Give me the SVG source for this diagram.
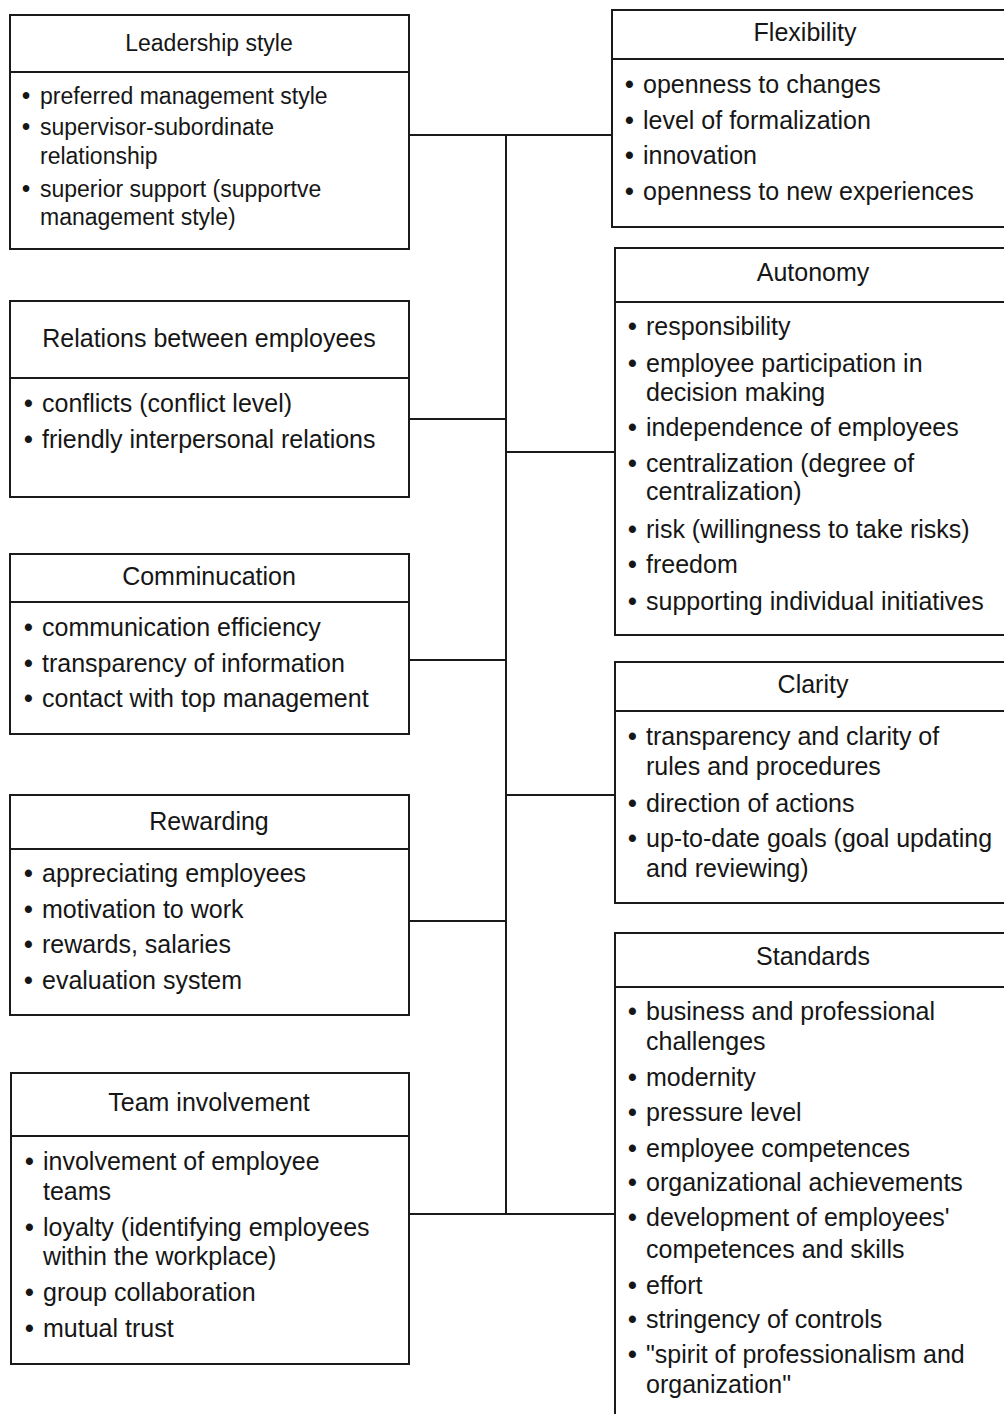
<svg xmlns="http://www.w3.org/2000/svg" width="1004" height="1414" viewBox="0 0 1004 1414">
<style>
.box{fill:#fff;stroke:#1a1a1a;stroke-width:2}
.div{stroke:#1a1a1a;stroke-width:2}
.conn{stroke:#1a1a1a;stroke-width:2;fill:none}
text{font-family:"Liberation Sans",Arial,sans-serif;fill:#161616}
.t{font-size:25px;text-anchor:middle}
.i{font-size:25px}
.s .t,.s .i{font-size:23px}
.b{font-weight:bold}
</style>
<rect width="1004" height="1414" fill="#fff"/>
<g id="connectors">
<line class="conn" x1="506" y1="135" x2="506" y2="1214"/>
<line class="conn" x1="409" y1="135" x2="612" y2="135"/>
<line class="conn" x1="409" y1="419" x2="506" y2="419"/>
<line class="conn" x1="409" y1="660" x2="506" y2="660"/>
<line class="conn" x1="409" y1="921" x2="506" y2="921"/>
<line class="conn" x1="409" y1="1214" x2="615" y2="1214"/>
<line class="conn" x1="506" y1="452" x2="615" y2="452"/>
<line class="conn" x1="506" y1="795" x2="615" y2="795"/>
</g>
<g id="leadership" class="s">
<rect class="box" x="10" y="15" width="399" height="234"/>
<line class="div" x1="10" y1="72" x2="409" y2="72"/>
<text class="t" x="209" y="51">Leadership style</text>
<text class="i" y="104"><tspan class="b" x="22">•</tspan><tspan x="40">preferred management style</tspan></text>
<text class="i" y="135"><tspan class="b" x="22">•</tspan><tspan x="40">supervisor-subordinate</tspan></text>
<text class="i" x="40" y="164">relationship</text>
<text class="i" y="197"><tspan class="b" x="22">•</tspan><tspan x="40">superior support (supportve</tspan></text>
<text class="i" x="40" y="225">management style)</text>
</g>
<g id="relations">
<rect class="box" x="10" y="301" width="399" height="196"/>
<line class="div" x1="10" y1="378" x2="409" y2="378"/>
<text class="t" x="209" y="347">Relations between employees</text>
<text class="i" y="412"><tspan class="b" x="24">•</tspan><tspan x="42">conflicts (conflict level)</tspan></text>
<text class="i" y="448"><tspan class="b" x="24">•</tspan><tspan x="42">friendly interpersonal relations</tspan></text>
</g>
<g id="communication">
<rect class="box" x="10" y="554" width="399" height="180"/>
<line class="div" x1="10" y1="602" x2="409" y2="602"/>
<text class="t" x="209" y="585">Comminucation</text>
<text class="i" y="636"><tspan class="b" x="24">•</tspan><tspan x="42">communication efficiency</tspan></text>
<text class="i" y="672"><tspan class="b" x="24">•</tspan><tspan x="42">transparency of information</tspan></text>
<text class="i" y="707"><tspan class="b" x="24">•</tspan><tspan x="42">contact with top management</tspan></text>
</g>
<g id="rewarding">
<rect class="box" x="10" y="795" width="399" height="220"/>
<line class="div" x1="10" y1="849" x2="409" y2="849"/>
<text class="t" x="209" y="830">Rewarding</text>
<text class="i" y="882"><tspan class="b" x="24">•</tspan><tspan x="42">appreciating employees</tspan></text>
<text class="i" y="918"><tspan class="b" x="24">•</tspan><tspan x="42">motivation to work</tspan></text>
<text class="i" y="953"><tspan class="b" x="24">•</tspan><tspan x="42">rewards, salaries</tspan></text>
<text class="i" y="989"><tspan class="b" x="24">•</tspan><tspan x="42">evaluation system</tspan></text>
</g>
<g id="team">
<rect class="box" x="11" y="1073" width="398" height="291"/>
<line class="div" x1="11" y1="1136" x2="409" y2="1136"/>
<text class="t" x="209" y="1111">Team involvement</text>
<text class="i" y="1170"><tspan class="b" x="25">•</tspan><tspan x="43">involvement of employee</tspan></text>
<text class="i" x="43" y="1200">teams</text>
<text class="i" y="1236"><tspan class="b" x="25">•</tspan><tspan x="43">loyalty (identifying employees</tspan></text>
<text class="i" x="43" y="1265">within the workplace)</text>
<text class="i" y="1301"><tspan class="b" x="25">•</tspan><tspan x="43">group collaboration</tspan></text>
<text class="i" y="1337"><tspan class="b" x="25">•</tspan><tspan x="43">mutual trust</tspan></text>
</g>
<g id="flexibility">
<rect class="box" x="612" y="10" width="420" height="217"/>
<line class="div" x1="612" y1="59" x2="1032" y2="59"/>
<text class="t" x="805" y="41">Flexibility</text>
<text class="i" y="93"><tspan class="b" x="625">•</tspan><tspan x="643">openness to changes</tspan></text>
<text class="i" y="129"><tspan class="b" x="625">•</tspan><tspan x="643">level of formalization</tspan></text>
<text class="i" y="164"><tspan class="b" x="625">•</tspan><tspan x="643">innovation</tspan></text>
<text class="i" y="200"><tspan class="b" x="625">•</tspan><tspan x="643">openness to new experiences</tspan></text>
</g>
<g id="autonomy">
<rect class="box" x="615" y="248" width="420" height="387"/>
<line class="div" x1="615" y1="302" x2="1035" y2="302"/>
<text class="t" x="813" y="281">Autonomy</text>
<text class="i" y="335"><tspan class="b" x="628">•</tspan><tspan x="646">responsibility</tspan></text>
<text class="i" y="372"><tspan class="b" x="628">•</tspan><tspan x="646">employee participation in</tspan></text>
<text class="i" x="646" y="401">decision making</text>
<text class="i" y="436"><tspan class="b" x="628">•</tspan><tspan x="646">independence of employees</tspan></text>
<text class="i" y="472"><tspan class="b" x="628">•</tspan><tspan x="646">centralization (degree of</tspan></text>
<text class="i" x="646" y="500">centralization)</text>
<text class="i" y="538"><tspan class="b" x="628">•</tspan><tspan x="646">risk (willingness to take risks)</tspan></text>
<text class="i" y="573"><tspan class="b" x="628">•</tspan><tspan x="646">freedom</tspan></text>
<text class="i" y="610"><tspan class="b" x="628">•</tspan><tspan x="646">supporting individual initiatives</tspan></text>
</g>
<g id="clarity">
<rect class="box" x="615" y="662" width="420" height="241"/>
<line class="div" x1="615" y1="711" x2="1035" y2="711"/>
<text class="t" x="813" y="693">Clarity</text>
<text class="i" y="745"><tspan class="b" x="628">•</tspan><tspan x="646">transparency and clarity of</tspan></text>
<text class="i" x="646" y="775">rules and procedures</text>
<text class="i" y="812"><tspan class="b" x="628">•</tspan><tspan x="646">direction of actions</tspan></text>
<text class="i" y="847"><tspan class="b" x="628">•</tspan><tspan x="646">up-to-date goals (goal updating</tspan></text>
<text class="i" x="646" y="877">and reviewing)</text>
</g>
<g id="standards">
<rect class="box" x="615" y="933" width="420" height="500"/>
<line class="div" x1="615" y1="987" x2="1035" y2="987"/>
<text class="t" x="813" y="965">Standards</text>
<text class="i" y="1020"><tspan class="b" x="628">•</tspan><tspan x="646">business and professional</tspan></text>
<text class="i" x="646" y="1050">challenges</text>
<text class="i" y="1086"><tspan class="b" x="628">•</tspan><tspan x="646">modernity</tspan></text>
<text class="i" y="1121"><tspan class="b" x="628">•</tspan><tspan x="646">pressure level</tspan></text>
<text class="i" y="1157"><tspan class="b" x="628">•</tspan><tspan x="646">employee competences</tspan></text>
<text class="i" y="1191"><tspan class="b" x="628">•</tspan><tspan x="646">organizational achievements</tspan></text>
<text class="i" y="1226"><tspan class="b" x="628">•</tspan><tspan x="646">development of employees'</tspan></text>
<text class="i" x="646" y="1258">competences and skills</text>
<text class="i" y="1294"><tspan class="b" x="628">•</tspan><tspan x="646">effort</tspan></text>
<text class="i" y="1328"><tspan class="b" x="628">•</tspan><tspan x="646">stringency of controls</tspan></text>
<text class="i" y="1363"><tspan class="b" x="628">•</tspan><tspan x="646">"spirit of professionalism and</tspan></text>
<text class="i" x="646" y="1393">organization"</text>
</g>
</svg>
